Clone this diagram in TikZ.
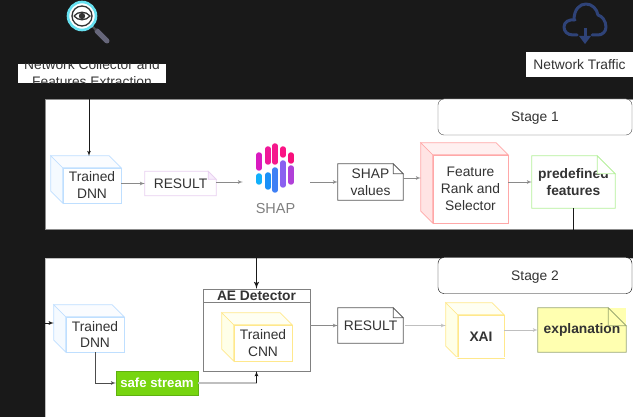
\documentclass[tikz,border=0pt]{standalone}
\usepackage{fontspec}
\setmainfont{Liberation Sans}
\usepackage{tikz}
\usetikzlibrary{arrows}
\definecolor{backdark}{HTML}{191919}
\definecolor{textdark}{HTML}{333333}
\definecolor{panelline}{HTML}{8C8C8C}
\definecolor{flowgray}{HTML}{8A8A8A}
\definecolor{cloudblue}{HTML}{2F4378}
\definecolor{handlegray}{HTML}{66667A}
\definecolor{ringcyan}{HTML}{66E0F0}
\definecolor{dnnline}{HTML}{BFDFFF}
\definecolor{dnnfill}{HTML}{F5FAFF}
\definecolor{rankline}{HTML}{FFA8A8}
\definecolor{rankfill}{HTML}{FFE4E4}
\definecolor{cubeline}{HTML}{FFE88C}
\definecolor{cubefill}{HTML}{FFFFE8}
\definecolor{resultline}{HTML}{E8D0F0}
\definecolor{resultfill}{HTML}{F8ECFC}
\definecolor{predefline}{HTML}{B4F09A}
\definecolor{safefill}{HTML}{77D50F}
\definecolor{safeline}{HTML}{60B010}
\definecolor{explfill}{HTML}{FFFFB0}
\definecolor{explline}{HTML}{9AA870}
\tikzset{panel/.style = {shape=rectangle,draw=panelline,fill=white,line width=0.8pt,minimum width=588pt,inner sep=0pt}}
\tikzset{stagebox/.style = {shape=rectangle,draw=#1,fill=white,rounded corners=6pt,minimum width=194pt,minimum height=36pt,inner sep=0pt,text depth=0pt}}
\tikzset{cube/.style = {shape=rectangle,draw=#1,fill=white,align=center,inner sep=0pt}}
\tikzset{notebox/.style = {shape=rectangle,fill=white,align=center,inner sep=0pt}}
\tikzset{whitebox/.style = {shape=rectangle,fill=white,inner sep=0pt}}
\tikzset{edge/.style = {->,> = latex',draw=flowgray,line width=0.7pt}}
\tikzset{darkedge/.style = {->,> = latex',draw=backdark,line width=0.8pt}}
\tikzset{shapbar/.style = {line width=5.5pt,line cap=round}}
% side and top of a cube, round its front node
\newcommand{\cubefaces}[3]{
    \path[draw=#2,fill=#3,line width=0.7pt] (#1.north west) -- ++(-12,-12) -- ([shift={(-12,-12)}]#1.south west) -- (#1.south west) -- cycle;
    \path[draw=#2,fill=#3!55,line width=0.7pt] (#1.north west) -- ++(-12,-12) -- ([shift={(-12,-12)}]#1.north east) -- (#1.north east) -- cycle;
}
% outline and folded corner of a note, round its node
\newcommand{\notefold}[4]{
    \path[draw=#2,line width=0.8pt] ([xshift=-#4pt]#1.north east) -- (#1.north west) -- (#1.south west) -- (#1.south east) -- ([yshift=-#4pt]#1.north east) -- cycle;
    \path[draw=#2,fill=#3,line width=0.7pt] ([xshift=-#4pt]#1.north east) -- ([shift={(-#4,#4)}]#1.north east) -- ([yshift=-#4pt]#1.north east) -- cycle;
}

\begin{document}
\begin{tikzpicture}[x=1pt,y=-1pt,font=\fontsize{13.8}{17}\selectfont,text=textdark]
    \fill[backdark] (0,0) rectangle (633,417);
    \useasboundingbox (0,0) rectangle (633,417);

    % panels
    \node[panel,minimum height=130pt] (stageone) at (339,164) {};
    \node[panel,minimum height=159pt,draw=lightgray] (stagetwo) at (339,337.5) {};
    \node[stagebox=black!70] (labelone) at (535,117) {Stage 1};
    \node[stagebox=black] (labeltwo) at (535,275.5) {Stage 2};

    % magnifier icon
    \draw[line width=5pt,line cap=round,draw=handlegray] (97,31) -- (107,41);
    \draw[line width=2pt,draw=black!70] (91,25) -- (96,30);
    \fill[white] (82,16) circle (14pt);
    \draw[line width=2.6pt,draw=ringcyan] (82,16) circle (14pt);
    \draw[line width=1.3pt,draw=black!80] (82,16) circle (10pt);
    \draw[line width=1.3pt,draw=black!80] (74,16) .. controls (78,11) and (86,11) .. (90,16) .. controls (86,21) and (78,21) .. (74,16);
    \fill[black!80] (82,16) circle (3.2pt);
    \node[whitebox,minimum width=148pt,minimum height=19pt] (collector) at (92,73.5) {};
    \begin{scope}
        \clip (collector.south west) rectangle (collector.north east);
        \node[align=center] (collectortext) at (92,73) {Network Collector and\\Features Extraction};
    \end{scope}

    % cloud icon
    \draw[draw=cloudblue,line width=3pt,line cap=round,line join=round]
        (577,35) -- (573,35) .. controls (567,35) and (564,31) .. (564,27) .. controls (564,22) and (569,19) .. (575,20);
    \draw[draw=cloudblue,line width=3pt,line cap=round,line join=round]
        (574,20) .. controls (574,9) and (580,4) .. (586,4) .. controls (592,4) and (597,9) .. (598,15) .. controls (602,16) and (606,21) .. (606,27) .. controls (606,32) and (602,35) .. (598,35) -- (592,35);
    \draw[draw=cloudblue,line width=3pt] (585,28) -- (585,41);
    \fill[cloudblue] (579,36) -- (591,36) -- (585,44) -- cycle;
    \node[whitebox,minimum width=107pt,minimum height=25pt] (traffic) at (579.5,64.5) {Network Traffic};

    % stage 1
    \node[cube=dnnline,minimum width=58pt,minimum height=35pt] (dnnone) at (92,185.5) {Trained\\DNN};
    \cubefaces{dnnone}{dnnline}{dnnfill}
    \node[notebox,minimum width=71pt,minimum height=24pt] (resultone) at (180.5,183.5) {RESULT};
    \notefold{resultone}{resultline}{resultfill}{8}
    \node (shap) at (276.5,182) [minimum width=67pt,minimum height=70pt,inner sep=0pt] {};
    \foreach \barx/\bartop/\barbot/\barcol in {259/155/168/D91AC0,268/149/162/F0189A,275/146/162/F5188C,283/149/155/FB1585,291/155/161/F8107C,259/176/182/12B0FB,268/175/187/1A90F8,275/170/190/3F80F5,283/163/185/8A60F0,291/168/182/B040D8}{
        \definecolor{barfill}{HTML}{\barcol}
        \draw[shapbar,draw=barfill] (\barx,\bartop) -- (\barx,\barbot);
    }
    \node[text=gray,font=\fontsize{14.5}{17}\selectfont] (shaptext) at (275.5,209) {SHAP};
    \node[notebox,minimum width=65pt,minimum height=36pt] (values) at (370.5,182) {SHAP\\values};
    \notefold{values}{black!65}{white}{10}
    \node[cube=rankline,minimum width=75pt,minimum height=68pt] (rank) at (470.5,189) {Feature\\Rank and\\Selector};
    \cubefaces{rank}{rankline}{rankfill}
    \node[notebox,minimum width=83pt,minimum height=52pt,font=\fontsize{13.8}{17}\selectfont\bfseries] (predefined) at (573.5,182) {predefined\\features};
    \notefold{predefined}{predefline}{white}{18}

    % stage 2
    \node[cube=dnnline,minimum width=58pt,minimum height=35pt] (dnntwo) at (95,334.5) {Trained\\DNN};
    \cubefaces{dnntwo}{dnnline}{dnnfill}
    \node[shape=rectangle,draw=gray,fill=white,minimum width=107pt,minimum height=82pt] (detector) at (256.5,330) {};
    \node[shape=rectangle,draw=gray,minimum width=107pt,minimum height=13pt,inner sep=0pt,font=\fontsize{13.8}{17}\selectfont\bfseries] (detectorhead) at (256.5,295.5) {AE Detector};
    \node[cube=cubeline,minimum width=58pt,minimum height=36pt] (cnn) at (263,343) {Trained\\CNN};
    \cubefaces{cnn}{cubeline}{cubefill}
    \node[shape=rectangle,draw=safeline,fill=safefill,text=white,minimum width=82pt,minimum height=24pt,inner sep=0pt,font=\fontsize{13.2}{17}\selectfont\bfseries] (safe) at (157,383) {safe stream};
    \node[notebox,minimum width=65pt,minimum height=35pt] (resulttwo) at (370.5,325.5) {RESULT};
    \notefold{resulttwo}{black!65}{white}{10}
    \node[cube=cubeline,minimum width=46pt,minimum height=43pt,font=\fontsize{13.8}{17}\selectfont\bfseries] (xai) at (481,336.5) {XAI};
    \cubefaces{xai}{cubeline}{cubefill}
    \fill[white] ([xshift=-13pt,yshift=-0.2pt]xai.south west) rectangle ([xshift=1pt,yshift=1.5pt]xai.south east);
    \node[notebox,minimum width=88pt,minimum height=44pt,fill=explfill,font=\fontsize{13.8}{17}\selectfont\bfseries] (explanation) at (582,330) {explanation};
    \notefold{explanation}{explline}{explfill}{18}

    % free ends
    \coordinate (dnnoneIn) at (89,156);
    \coordinate (dnntwoFrom) at (45,323);

    % connectors
    \draw[darkedge] (collector.south -| dnnoneIn) -- (dnnoneIn);
    \draw[edge] (dnnone.east |- resultone.west) -- (resultone.west);
    \draw[edge] (resultone.east |- shap.west) -- (shap.west);
    \draw[edge] (shap.east) -- (values.west);
    \draw[edge] ([yshift=4pt]values.east) -- ([xshift=-12pt,yshift=4pt]values.east -| rank.west);
    \draw[edge] (rank.east |- predefined.west) -- (predefined.west);
    \draw[darkedge,line width=1.4pt] (predefined.south) -- ++(0,35) -| (detectorhead.north);
    \draw[darkedge] (dnntwoFrom) -- ([xshift=-12pt]dnntwo.west |- dnntwoFrom);
    \draw[edge,draw=black!70] (dnntwo.south) |- (safe.west);
    \draw[line width=1.3pt,draw=lightgray] (safe.east) -- (detector.south |- safe.east);
    \draw[darkedge] (detector.south |- safe.east) -- (detector.south);
    \draw[edge] (detector.east |- resulttwo.west) -- (resulttwo.west);
    \draw[edge,draw=lightgray] ([xshift=2pt]resulttwo.east) -- ([xshift=-12pt]resulttwo.east -| xai.west);
    \draw[edge,draw=lightgray] (xai.east |- explanation.west) -- (explanation.west);
\end{tikzpicture}
\end{document}
